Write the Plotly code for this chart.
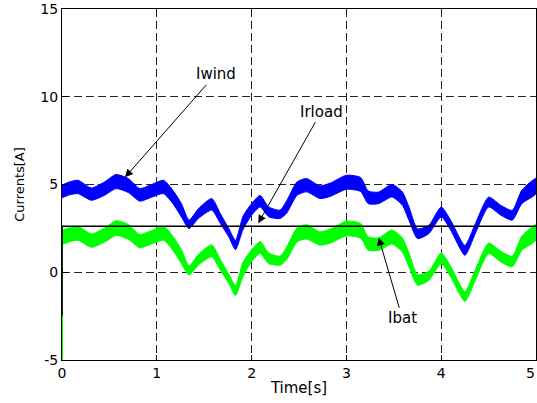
import plotly.graph_objects as go

# time samples (s)
t = [0.00, 0.08, 0.17, 0.31, 0.45, 0.57, 0.70, 0.82, 0.93, 1.07, 1.17, 1.26, 1.34, 1.44,
     1.58, 1.67, 1.76, 1.83, 1.91, 2.00, 2.09, 2.18, 2.30, 2.37, 2.48, 2.58, 2.72, 2.83,
     3.00, 3.15, 3.23, 3.34, 3.48, 3.59, 3.66, 3.75, 3.87, 4.00, 4.10, 4.25, 4.36, 4.50,
     4.63, 4.75, 4.85, 5.00]

# Iwind: band centre and ripple half-width (A)
iwind = [4.60, 4.78, 4.86, 4.45, 4.77, 5.17, 4.94, 4.41, 4.60, 4.86, 4.29, 3.53, 2.73, 3.35,
         3.87, 3.06, 2.25, 1.55, 2.82, 3.58, 4.05, 3.44, 3.30, 3.72, 4.77, 4.96, 4.56, 4.70,
         5.13, 5.00, 4.27, 4.24, 4.65, 4.20, 3.34, 2.20, 2.44, 3.44, 2.68, 1.25, 2.49, 4.00,
         3.53, 3.25, 4.29, 4.91]
iwind_rip = [0.36, 0.37, 0.38, 0.35, 0.38, 0.40, 0.40, 0.36, 0.36, 0.38, 0.38, 0.38, 0.24, 0.28,
             0.33, 0.28, 0.24, 0.26, 0.38, 0.33, 0.33, 0.28, 0.24, 0.35, 0.38, 0.38, 0.36, 0.38,
             0.40, 0.40, 0.36, 0.33, 0.36, 0.38, 0.38, 0.28, 0.24, 0.28, 0.28, 0.28, 0.28, 0.28,
             0.28, 0.28, 0.38, 0.43]

# Ibat: band centre and ripple half-width (A)
ibat = [1.98, 2.14, 2.22, 1.80, 2.12, 2.52, 2.30, 1.77, 1.96, 2.22, 1.65, 0.89, 0.10, 0.72,
        1.22, 0.42, -0.38, -1.05, 0.18, 0.94, 1.41, 0.80, 0.66, 1.08, 2.13, 2.30, 1.92, 2.06,
        2.49, 2.36, 1.63, 1.60, 2.01, 1.56, 0.70, -0.44, -0.20, 0.80, 0.04, -1.38, -0.15, 1.36,
        0.89, 0.61, 1.65, 2.27]
ibat_rip = [0.40, 0.40, 0.40, 0.38, 0.40, 0.42, 0.42, 0.38, 0.38, 0.40, 0.40, 0.40, 0.26, 0.30,
            0.34, 0.30, 0.26, 0.28, 0.40, 0.34, 0.34, 0.30, 0.26, 0.36, 0.40, 0.41, 0.38, 0.40,
            0.42, 0.42, 0.38, 0.36, 0.40, 0.40, 0.40, 0.30, 0.26, 0.30, 0.30, 0.28, 0.30, 0.30,
            0.30, 0.30, 0.40, 0.44]

# start-up transients and load current
ibat_start_t = [0.0, 0.0]
ibat_start = [-5.0, 1.98]
iload_t = [0.0, 0.0, 5.0]
iload = [-2.45, 2.62, 2.62]

x_ticks = [0, 1, 2, 3, 4, 5]
y_ticks = [-5, 0, 5, 10, 15]

FONT = "DejaVu Sans"


def band(tt, c, r):
    up = [a + b for a, b in zip(c, r)]
    lo = [a - b for a, b in zip(c, r)]
    return tt + tt[::-1], up + lo[::-1]


fig = go.Figure()
bx, by = band(t, iwind, iwind_rip)
fig.add_trace(go.Scatter(x=bx, y=by, fill="toself", fillcolor="#0000FF",
                         line=dict(color="#0000FF", width=1, shape="spline", smoothing=0.6),
                         mode="lines", hoverinfo="skip", showlegend=False))
gx, gy = band(t, ibat, ibat_rip)
fig.add_trace(go.Scatter(x=gx, y=gy, fill="toself", fillcolor="#00FF00",
                         line=dict(color="#00FF00", width=1, shape="spline", smoothing=0.6),
                         mode="lines", hoverinfo="skip", showlegend=False))
fig.add_trace(go.Scatter(x=ibat_start_t, y=ibat_start, mode="lines", cliponaxis=False,
                         line=dict(color="#00FF00", width=2), showlegend=False))
fig.add_trace(go.Scatter(x=iload_t, y=iload, mode="lines", cliponaxis=False,
                         line=dict(color="#000000", width=1.6), showlegend=False))

ann_font = dict(family=FONT, size=15, color="#000000")
for txt, hx, hy, tx, ty in [("Iwind", 0.665, 5.41, 1.62, 11.28),
                            ("Irload", 2.07, 2.79, 2.735, 9.15),
                            ("Ibat", 3.34, 1.98, 3.59, -2.62)]:
    fig.add_annotation(x=hx, y=hy, ax=tx, ay=ty, xref="x", yref="y", axref="x", ayref="y",
                       text=txt, showarrow=True, arrowhead=2, arrowsize=1.6, arrowwidth=1,
                       arrowcolor="#000000", font=ann_font)

# last x tick label sits at the figure edge
fig.add_annotation(x=x_ticks[-1], y=0, xref="x", yref="paper", text=str(x_ticks[-1]),
                   showarrow=False, yanchor="top", yshift=-3, xanchor="right", xshift=1,
                   font=dict(family=FONT, size=14, color="#000000"))

axis_common = dict(showline=True, linecolor="#000000", linewidth=1, mirror=True,
                   ticks="inside", ticklen=5, tickcolor="#000000", automargin=False,
                   showgrid=True, gridcolor="#222222", gridwidth=1, griddash="8px,4px",
                   zeroline=False, tickfont=dict(family=FONT, size=14, color="#000000"))

fig.update_xaxes(range=[0, 5], tickvals=x_ticks, ticktext=[str(v) for v in x_ticks],
                 title=dict(text="Time[s]", font=dict(family=FONT, size=15, color="#000000"),
                            standoff=2),
                 **axis_common)
fig.update_yaxes(range=[-5, 15], tickvals=y_ticks, ticktext=[str(v) for v in y_ticks],
                 title=dict(text="Currents[A]", font=dict(family=FONT, size=13, color="#000000"),
                            standoff=12),
                 **axis_common)

fig.update_layout(width=537, height=403, margin=dict(l=62, r=1, t=9, b=43),
                  plot_bgcolor="#FFFFFF", paper_bgcolor="#FFFFFF", showlegend=False)

fig.write_html("out.html", config={"displayModeBar": False},
               post_script="document.body.style.margin='0';document.body.style.overflow='hidden';")
